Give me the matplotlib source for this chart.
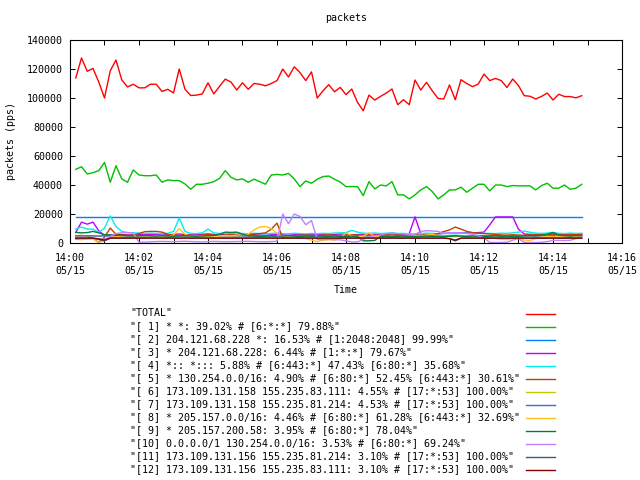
import matplotlib
matplotlib.use("Agg")
import matplotlib.pyplot as plt
import matplotlib.dates as mdates
from matplotlib.lines import Line2D
import pandas as pd

plt.rcParams['font.family'] = ['DejaVu Sans Mono', 'DejaVu Sans']
FS = 7.2

start_time = "2000-05-15 14:00:10"
n_points = 89
step = "10s"

total = [113.8, 127.6, 118.4, 120.4, 111.0, 100.0, 118.8, 126.2, 112.5, 107.6,
         109.5, 107.0, 107.0, 109.5, 109.5, 104.5, 106.0, 103.5, 120.0, 106.0,
         101.7, 102.0, 102.8, 110.5, 102.8, 108.0, 113.0, 111.0, 105.5, 110.5,
         106.0, 110.0, 109.5, 108.4, 110.0, 112.0, 120.0, 114.5, 121.5, 117.5,
         112.0, 118.0, 100.0, 105.0, 109.2, 104.3, 107.3, 102.3, 106.2, 97.0,
         91.2, 102.0, 98.6, 101.1, 103.4, 106.2, 95.4, 98.8, 95.4, 112.4,
         105.5, 110.8, 105.0, 99.7, 99.3, 109.0, 98.8, 112.6, 110.0, 107.8,
         109.6, 116.5, 112.0, 113.5, 112.0, 107.3, 113.1, 108.5, 101.6, 101.2,
         99.3, 101.1, 103.4, 98.6, 102.6, 101.0, 101.0, 100.1, 101.6]

s1 = [50.8, 52.6, 47.6, 48.5, 49.9, 55.6, 41.9, 53.3, 44.2, 41.9,
      50.4, 46.9, 46.4, 46.4, 46.9, 41.9, 43.5, 43.0, 43.0, 40.7,
      37.1, 40.5, 40.5, 41.2, 42.3, 44.6, 49.9, 45.3, 43.5, 44.2,
      41.9, 44.0, 42.3, 40.5, 46.9, 47.3, 46.9, 48.0, 44.2, 38.9,
      42.8, 41.2, 44.0, 45.8, 46.2, 44.0, 42.0, 38.9, 38.9, 38.9,
      32.7, 42.3, 37.3, 40.0, 39.4, 42.3, 33.2, 33.2, 30.4, 33.2,
      36.6, 38.9, 35.5, 30.4, 33.2, 36.6, 36.6, 38.5, 35.0, 37.8,
      40.5, 40.5, 35.9, 40.0, 40.0, 38.9, 39.6, 39.4, 39.4, 39.4,
      36.6, 39.6, 41.2, 37.8, 37.8, 40.0, 37.0, 37.8, 40.5]

s2 = [17.9] * 89

s3 = [7.3, 14.4, 13.0, 14.4, 8.4, 5.2, 5.5, 6.0, 5.8, 5.6,
      5.5, 5.7, 5.9, 6.0, 5.8, 5.6, 5.7, 5.9, 6.2, 5.8,
      5.6, 5.7, 6.0, 6.3, 5.9, 5.7, 5.8, 6.1, 5.9, 5.7,
      5.8, 6.0, 6.2, 6.4, 6.0, 5.8, 6.1, 6.3, 6.0, 5.9,
      5.7, 5.9, 6.1, 5.8, 5.6, 5.9, 6.2, 6.0, 5.7, 5.8,
      6.0, 5.9, 5.7, 5.8, 6.1, 6.3, 6.0, 5.9, 6.5, 18.0,
      6.5, 6.0, 5.8, 6.2, 6.6, 6.8, 7.0, 6.9, 7.1, 7.0,
      7.2, 7.5, 12.5, 18.0, 18.0, 18.0, 18.0, 9.5, 6.2, 6.0,
      5.8, 6.1, 5.9, 6.3, 6.0, 5.8, 6.2, 6.0, 6.1]

s4 = [9.6, 11.0, 9.6, 9.6, 7.3, 10.3, 18.7, 11.4, 8.0, 7.2,
      7.0, 6.9, 6.5, 6.8, 6.6, 6.4, 6.7, 8.0, 17.2, 8.0,
      6.6, 6.5, 7.0, 9.6, 7.0, 6.6, 6.8, 6.5, 6.9, 6.6,
      6.4, 6.7, 6.5, 6.3, 6.6, 6.8, 6.5, 6.4, 6.7, 6.5,
      6.3, 6.6, 6.4, 6.7, 6.5, 6.9, 7.0, 7.2, 8.7, 7.5,
      6.8, 6.6, 6.9, 6.5, 6.7, 7.0, 6.5, 6.6, 6.4, 6.2,
      6.5, 6.8, 6.6, 6.4, 6.7, 6.5, 6.3, 6.6, 6.8, 6.5,
      6.4, 6.7, 6.6, 6.5, 6.8, 6.6, 7.0, 7.5, 8.2, 7.4,
      6.8, 6.6, 6.9, 7.2, 6.7, 6.5, 6.8, 6.6, 6.7]

s5 = [5.0, 5.2, 4.8, 3.0, 0.5, 4.0, 10.3, 6.0, 5.5, 5.2,
      5.5, 6.5, 7.8, 8.0, 8.0, 7.5, 6.0, 5.4, 5.2, 5.6,
      5.3, 5.1, 5.5, 5.8, 5.4, 5.2, 5.5, 5.7, 5.3, 5.6,
      5.8, 6.2, 6.5, 7.0, 9.5, 13.7, 3.4, 4.5, 5.0, 5.3,
      5.5, 5.2, 5.0, 5.4, 5.6, 5.3, 5.1, 5.5, 5.7, 5.4,
      5.2, 5.6, 5.3, 5.5, 5.8, 5.4, 5.6, 5.3, 5.5, 5.7,
      5.4, 5.6, 5.8, 6.5, 7.9, 9.0, 11.0, 9.6, 8.0, 7.2,
      6.8, 6.5, 6.2, 5.9, 5.6, 5.4, 5.7, 5.5, 5.3, 5.6,
      5.8, 5.5, 5.7, 5.9, 5.6, 5.4, 5.8, 5.6, 5.9]

s6 = [4.9, 5.0, 4.8, 4.9, 4.7, 4.9, 5.0, 4.9, 4.8, 4.9,
      5.0, 4.9, 4.8, 5.0, 4.9, 4.8, 4.9, 5.0, 4.9, 4.8,
      4.9, 5.0, 4.9, 4.8, 4.9, 5.0, 4.9, 4.8, 4.9, 5.0,
      4.9, 4.8, 4.9, 5.0, 4.9, 4.8, 4.9, 5.0, 4.9, 4.8,
      4.9, 5.0, 4.9, 4.8, 4.9, 5.0, 4.9, 4.8, 4.9, 5.0,
      4.9, 4.8, 4.9, 5.0, 4.9, 4.8, 4.9, 5.0, 4.9, 4.8,
      4.9, 5.0, 4.9, 4.8, 4.9, 5.0, 4.9, 4.8, 4.9, 5.0,
      4.9, 4.8, 4.9, 5.0, 4.9, 4.8, 4.9, 5.0, 4.9, 4.8,
      4.9, 5.0, 4.9, 4.8, 4.9, 5.0, 4.9, 4.8, 4.9]

s7 = [5.0, 4.9, 5.0, 4.9, 4.8, 4.9, 5.0, 4.9, 5.0, 4.9,
      4.9, 5.0, 4.9, 5.0, 4.9, 4.9, 5.0, 4.9, 5.0, 4.9,
      4.9, 5.0, 4.9, 5.0, 4.9, 4.9, 5.0, 4.9, 5.0, 4.9,
      4.9, 5.0, 4.9, 5.0, 4.9, 4.9, 5.0, 4.9, 5.0, 4.9,
      4.9, 5.0, 4.9, 5.0, 4.9, 4.9, 5.0, 4.9, 5.0, 4.9,
      4.9, 5.0, 4.9, 5.0, 4.9, 4.9, 5.0, 4.9, 5.0, 4.9,
      4.9, 5.0, 4.9, 5.0, 4.9, 4.9, 5.0, 4.9, 5.0, 4.9,
      4.9, 5.0, 4.9, 5.0, 4.9, 4.9, 5.0, 4.9, 5.0, 4.9,
      4.9, 5.0, 4.9, 5.0, 4.9, 4.9, 5.0, 4.9, 5.0]

s8 = [2.5, 2.3, 3.0, 2.8, 0.5, 1.5, 3.5, 4.5, 4.0, 3.8,
      4.2, 4.0, 3.8, 4.5, 4.8, 4.2, 4.0, 5.5, 10.0, 6.0,
      4.5, 4.8, 5.0, 4.6, 4.3, 4.8, 5.2, 4.9, 5.5, 5.8,
      6.0, 9.0, 11.0, 11.4, 10.0, 6.5, 4.5, 4.0, 4.2, 3.8,
      3.0, 2.0, 1.0, 2.0, 2.3, 2.0, 3.5, 7.0, 5.0, 4.2,
      4.8, 7.0, 4.5, 4.0, 4.3, 4.6, 4.2, 4.0, 4.5, 4.8,
      5.0, 5.5, 6.0, 5.2, 4.8, 4.5, 4.2, 4.8, 5.0, 4.6,
      4.4, 4.0, 3.5, 3.0, 2.5, 2.3, 3.0, 3.5, 2.0, 1.8,
      3.0, 4.0, 4.5, 4.2, 4.8, 4.4, 4.0, 4.6, 4.2]

s9 = [7.3, 7.0, 7.2, 8.0, 7.0, 5.7, 5.5, 5.2, 5.4, 5.0,
      4.8, 5.0, 5.2, 4.9, 4.7, 5.0, 4.8, 4.6, 4.9, 5.1,
      4.8, 4.6, 4.9, 5.0, 5.2, 6.0, 7.5, 7.3, 7.5, 6.0,
      5.0, 4.8, 4.5, 4.7, 4.9, 4.6, 4.8, 5.0, 4.7, 4.5,
      4.8, 4.6, 4.9, 4.7, 4.5, 4.8, 4.6, 4.4, 4.7, 4.5,
      1.5, 1.5, 1.8, 4.5, 4.7, 4.4, 4.6, 4.8, 4.5, 4.3,
      4.6, 4.8, 4.5, 4.7, 4.4, 4.6, 4.9, 4.7, 4.5, 4.8,
      4.6, 4.4, 4.7, 4.9, 4.6, 4.8, 4.5, 4.7, 4.9, 5.2,
      5.0, 5.4, 6.0, 7.3, 5.5, 5.0, 4.8, 5.1, 4.9]

s10 = [2.5, 3.0, 2.8, 3.2, 3.0, 2.5, 4.5, 6.5, 7.0, 7.2,
       6.8, 0.5, 0.6, 0.8, 1.0, 1.1, 1.0, 0.9, 1.1, 1.2,
       1.0, 0.8, 0.7, 0.9, 1.1, 1.0, 0.8, 0.9, 1.0, 1.1,
       1.2, 1.0, 0.9, 0.8, 1.0, 1.2, 20.0, 13.3, 20.0, 18.3,
       12.6, 15.5, 2.5, 2.3, 2.5, 2.3, 2.2, 1.5, 0.7, 0.7,
       2.5, 4.0, 5.0, 5.5, 6.5, 6.8, 6.5, 6.3, 5.5, 6.0,
       8.0, 8.5, 8.3, 8.0, 6.5, 7.0, 7.2, 6.8, 6.5, 6.0,
       5.0, 3.5, 0.4, 0.3, 0.4, 0.5, 2.0, 3.0, 0.4, 0.4,
       0.3, 0.5, 1.0, 1.8, 1.8, 1.7, 1.9, 3.0, 4.5]

s11 = [3.3, 3.4, 3.3, 3.3, 2.5, 1.5, 3.3, 3.4, 3.3, 3.3,
       3.4, 3.3, 3.3, 3.4, 3.3, 3.3, 3.4, 3.3, 3.3, 3.4,
       3.3, 3.3, 3.4, 3.3, 3.3, 3.4, 3.3, 3.3, 3.4, 3.3,
       3.3, 3.4, 3.3, 3.3, 3.4, 3.3, 3.3, 3.4, 3.3, 3.3,
       3.4, 3.3, 3.3, 3.4, 3.3, 3.3, 3.4, 3.3, 3.3, 3.4,
       3.3, 3.3, 3.4, 3.3, 3.3, 3.4, 3.3, 3.3, 3.4, 3.3,
       3.3, 3.4, 3.3, 3.3, 3.4, 3.0, 1.5, 3.3, 3.4, 3.3,
       3.3, 3.4, 3.3, 3.3, 3.4, 3.3, 3.3, 3.4, 3.3, 3.3,
       3.4, 3.3, 3.3, 3.4, 3.3, 3.3, 3.4, 3.3, 3.3]

s12 = [3.4, 3.4, 3.4, 3.4, 2.8, 2.0, 3.4, 3.4, 3.4, 3.4,
       3.4, 3.4, 3.4, 3.4, 3.4, 3.4, 3.4, 3.4, 3.4, 3.4,
       3.4, 3.4, 3.4, 3.4, 3.4, 3.4, 3.4, 3.4, 3.4, 3.4,
       3.4, 3.4, 3.4, 3.4, 3.4, 3.4, 3.4, 3.4, 3.4, 3.4,
       3.4, 3.4, 3.4, 3.4, 3.4, 3.4, 3.4, 3.4, 3.4, 3.4,
       3.4, 3.4, 3.4, 3.4, 3.4, 3.4, 3.4, 3.4, 3.4, 3.4,
       3.4, 3.4, 3.4, 3.4, 3.4, 3.0, 2.0, 3.4, 3.4, 3.4,
       3.4, 3.4, 3.4, 3.4, 3.4, 3.4, 3.4, 3.4, 3.4, 3.4,
       3.4, 3.4, 3.4, 3.4, 3.4, 3.4, 3.4, 3.4, 3.4]

labels = [
    '"TOTAL"',
    '"[ 1] * *: 39.02% # [6:*:*] 79.88%"',
    '"[ 2] 204.121.68.228 *: 16.53% # [1:2048:2048] 99.99%"',
    '"[ 3] * 204.121.68.228: 6.44% # [1:*:*] 79.67%"',
    '"[ 4] *:: *::: 5.88% # [6:443:*] 47.43% [6:80:*] 35.68%"',
    '"[ 5] * 130.254.0.0/16: 4.90% # [6:80:*] 52.45% [6:443:*] 30.61%"',
    '"[ 6] 173.109.131.158 155.235.83.111: 4.55% # [17:*:53] 100.00%"',
    '"[ 7] 173.109.131.158 155.235.81.214: 4.53% # [17:*:53] 100.00%"',
    '"[ 8] * 205.157.0.0/16: 4.46% # [6:80:*] 61.28% [6:443:*] 32.69%"',
    '"[ 9] * 205.157.200.58: 3.95% # [6:80:*] 78.04%"',
    '"[10] 0.0.0.0/1 130.254.0.0/16: 3.53% # [6:80:*] 69.24%"',
    '"[11] 173.109.131.156 155.235.81.214: 3.10% # [17:*:53] 100.00%"',
    '"[12] 173.109.131.156 155.235.83.111: 3.10% # [17:*:53] 100.00%"',
]
colors = ['#ff0000', '#00c000', '#0080ff', '#c000ff', '#00eeee', '#c04000',
          '#c8c800', '#4169e1', '#ffc020', '#008040', '#c080ff', '#306080',
          '#8b0000']
series = [total, s1, s2, s3, s4, s5, s6, s7, s8, s9, s10, s11, s12]

times = pd.date_range(start_time, periods=n_points, freq=step)

W, H = 640, 480
fig = plt.figure(figsize=(6.4, 4.8), dpi=100)
ax = fig.add_axes([70/W, 1-243/H, 552/W, 203/H])

LW = 1.0
for vals, col in zip(series, colors):
    ax.plot(times, [v * 1000 for v in vals], color=col, lw=LW)

ax.set_xlim(pd.Timestamp("2000-05-15 14:00:00"), pd.Timestamp("2000-05-15 14:16:00"))
ax.set_ylim(0, 140000)
ax.set_yticks(range(0, 140001, 20000))
ax.set_yticklabels([str(v) for v in range(0, 140001, 20000)])
ax.xaxis.set_major_locator(mdates.MinuteLocator(interval=2))
ax.xaxis.set_minor_locator(mdates.MinuteLocator(interval=1))
ax.xaxis.set_major_formatter(mdates.DateFormatter("%H:%M\n%m/%d"))

ax.tick_params(which='both', direction='in', top=True, right=True,
               length=3.6, width=0.7, labelsize=FS, pad=5)
ax.tick_params(axis='x', which='major', pad=7)
for sp in ax.spines.values():
    sp.set_linewidth(0.8)

fig.canvas.draw()
for lbl in ax.get_xticklabels():
    lbl.set_linespacing(1.45)

ax.set_title("packets", fontsize=FS, pad=14)
ax.set_xlabel("Time", fontsize=FS, labelpad=6)
ax.set_ylabel("packets (pps)", fontsize=FS, labelpad=8)

# key, laid out the way gnuplot does: text left, sample line right
for k, (lab, col) in enumerate(zip(labels, colors)):
    yc = 1 - (313.5 + 13 * k) / H
    fig.text(130 / W, yc, lab, fontsize=FS, ha='left', va='center')
    fig.add_artist(Line2D([526 / W, 555 / W], [yc, yc], color=col, lw=LW,
                          transform=fig.transFigure))

fig.savefig("out.png", dpi=100)
